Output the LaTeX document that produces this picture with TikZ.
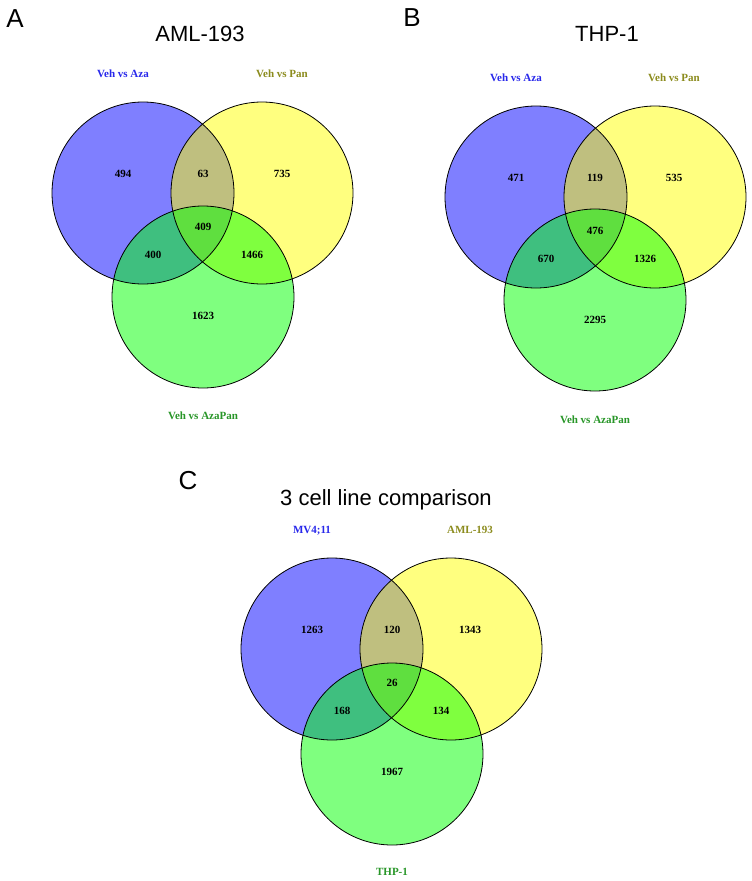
\documentclass[tikz,border=0pt]{standalone}
\usepackage{fontspec}
\setmainfont{Liberation Serif}
\newfontfamily\arialf{Liberation Sans}
\definecolor{vblue}{RGB}{0,0,255}
\definecolor{vyellow}{RGB}{255,255,0}
\definecolor{vgreen}{RGB}{0,255,0}
\definecolor{lblue}{RGB}{40,40,235}
\definecolor{lolive}{RGB}{140,140,30}
\definecolor{lgreen}{RGB}{40,150,40}
\begin{document}
\begin{tikzpicture}[x=1pt,y=-1pt,
  setfill/.style={fill=#1, fill opacity=0.5},
  ring/.style={draw=black, line width=0.8pt},
  num/.style={font=\bfseries\fontsize{11}{13}\selectfont, inner sep=0pt, anchor=base},
  lab/.style={font=\bfseries\fontsize{11}{13}\selectfont, inner sep=0pt, anchor=base, text=#1},
  ttl/.style={font=\arialf\fontsize{22}{26}\selectfont, inner sep=0pt, anchor=base},
  letter/.style={font=\arialf\fontsize{26}{30}\selectfont, inner sep=0pt, anchor=base}]
\useasboundingbox[fill=white] (0,0) rectangle (752,881);

% ---------- Panel A ----------
\coordinate (Ab) at (143,193);
\coordinate (Ay) at (262,193);
\coordinate (Ag) at (203,297);
\fill[setfill=vblue] (Ab) circle[radius=91pt];
\fill[setfill=vyellow] (Ay) circle[radius=91pt];
\fill[setfill=vgreen] (Ag) circle[radius=91pt];
\draw[ring] (Ab) circle[radius=91pt];
\draw[ring] (Ay) circle[radius=91pt];
\draw[ring] (Ag) circle[radius=91pt];
\node[letter] (lA) at (15,27) {A};
\node[ttl] (tA) at (200,41) {AML-193};
\node[lab=lblue] (aA1) at (123,77) {Veh vs Aza};
\node[lab=lolive] (aA2) at (282,77) {Veh vs Pan};
\node[lab=lgreen] (aA3) at (203,419) {Veh vs AzaPan};
\node[num] (nA1) at (123,177) {494};
\node[num] (nA2) at (203,177) {63};
\node[num] (nA3) at (282,177) {735};
\node[num] (nA4) at (203,230) {409};
\node[num] (nA5) at (153,258) {400};
\node[num] (nA6) at (252,258) {1466};
\node[num] (nA7) at (203,319) {1623};

% ---------- Panel B ----------
\coordinate (Bb) at (536,197);
\coordinate (By) at (655,197);
\coordinate (Bg) at (595,300);
\fill[setfill=vblue] (Bb) circle[radius=91pt];
\fill[setfill=vyellow] (By) circle[radius=91pt];
\fill[setfill=vgreen] (Bg) circle[radius=91pt];
\draw[ring] (Bb) circle[radius=91pt];
\draw[ring] (By) circle[radius=91pt];
\draw[ring] (Bg) circle[radius=91pt];
\node[letter] (lB) at (412,26) {B};
\node[ttl] (tB) at (607,41) {THP-1};
\node[lab=lblue] (aB1) at (516,81) {Veh vs Aza};
\node[lab=lolive] (aB2) at (674,81) {Veh vs Pan};
\node[lab=lgreen] (aB3) at (595,423) {Veh vs AzaPan};
\node[num] (nB1) at (516,181) {471};
\node[num] (nB2) at (595,181) {119};
\node[num] (nB3) at (674,181) {535};
\node[num] (nB4) at (595,234) {476};
\node[num] (nB5) at (546,262) {670};
\node[num] (nB6) at (645,262) {1326};
\node[num] (nB7) at (595,323) {2295};

% ---------- Panel C ----------
\coordinate (Cb) at (332,649);
\coordinate (Cy) at (451,649);
\coordinate (Cg) at (392,754);
\fill[setfill=vblue] (Cb) circle[radius=91pt];
\fill[setfill=vyellow] (Cy) circle[radius=91pt];
\fill[setfill=vgreen] (Cg) circle[radius=91pt];
\draw[ring] (Cb) circle[radius=91pt];
\draw[ring] (Cy) circle[radius=91pt];
\draw[ring] (Cg) circle[radius=91pt];
\node[letter] (lC) at (188,489) {C};
\node[ttl] (tC) at (386,505) {3 cell line comparison};
\node[lab=lblue] (aC1) at (312,533) {MV4;11};
\node[lab=lolive] (aC2) at (470,533) {AML-193};
\node[lab=lgreen] (aC3) at (392,875) {THP-1};
\node[num] (nC1) at (312,633) {1263};
\node[num] (nC2) at (392,633) {120};
\node[num] (nC3) at (470,633) {1343};
\node[num] (nC4) at (392,686) {26};
\node[num] (nC5) at (342,714) {168};
\node[num] (nC6) at (441,714) {134};
\node[num] (nC7) at (392,775) {1967};
\end{tikzpicture}
\end{document}
